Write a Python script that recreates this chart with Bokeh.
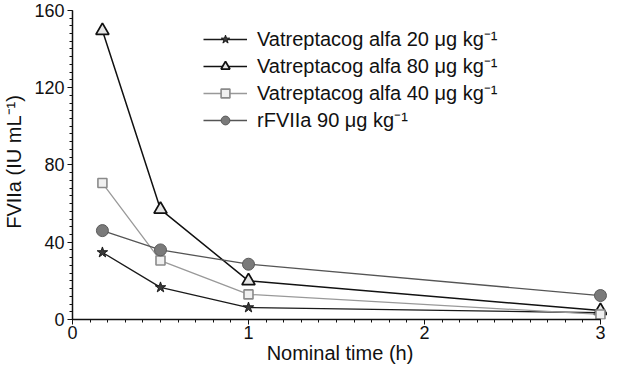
from bokeh.plotting import figure
from bokeh.models import Range1d, Legend, LegendItem, FixedTicker
from bokeh.embed import file_html
from bokeh.resources import INLINE

time_h = [0.17, 0.5, 1.0, 3.0]
vat20 = [34.7, 16.6, 6.2, 3.5]
vat80 = [149.5, 57, 20, 4.6]
vat40 = [70.6, 30.5, 13, 2.6]
rf90 = [46, 36, 28.6, 12.4]

labels = ["Vatreptacog alfa 20 μg kg⁻¹", "Vatreptacog alfa 80 μg kg⁻¹",
          "Vatreptacog alfa 40 μg kg⁻¹", "rFVIIa 90 μg kg⁻¹"]
x_ticks = [0, 1, 2, 3]
y_ticks = [0, 40, 80, 120, 160]

FONT = "Liberation Sans"

p = figure(frame_width=535, frame_height=315, output_backend="svg", toolbar_location=None,
           x_range=Range1d(0, 3.04), y_range=Range1d(0, 163),
           min_border_left=69, min_border_top=4, min_border_right=0, min_border_bottom=43)
p.outline_line_color = None
p.xgrid.visible = False
p.ygrid.visible = False
p.background_fill_color = "white"

r1l = p.line(time_h, vat20, line_color="#1a1a1a", line_width=1.3)
r1m = p.scatter(time_h, vat20, marker="star", size=11, fill_color="#3a3a3a", line_color="#1a1a1a")
r2l = p.line(time_h, vat80, line_color="#111111", line_width=1.5)
r2m = p.scatter(time_h, vat80, marker="triangle", size=13, fill_color="#e6e6e6", line_color="#111111", line_width=1.8)
r3l = p.line(time_h, vat40, line_color="#999999", line_width=1.3)
r3m = p.scatter(time_h, vat40, marker="square", size=9, fill_color="#f0f0f0", line_color="#8a8a8a", line_width=1.6)
r4l = p.line(time_h, rf90, line_color="#555555", line_width=1.3)
r4m = p.scatter(time_h, rf90, marker="circle", size=12, fill_color="#7a7a7a", line_color="#5a5a5a")

legend = Legend(items=[
    LegendItem(label=labels[0], renderers=[r1l, r1m]),
    LegendItem(label=labels[1], renderers=[r2l, r2m]),
    LegendItem(label=labels[2], renderers=[r3l, r3m]),
    LegendItem(label=labels[3], renderers=[r4l, r4m]),
], location=(131, 186))
legend.border_line_color = None
legend.background_fill_alpha = 0
legend.label_text_font = FONT
legend.label_text_font_size = "20px"
legend.label_text_color = "#111111"
legend.label_height = 26
legend.glyph_height = 22
legend.glyph_width = 44
legend.label_standoff = 10
legend.spacing = 0
legend.padding = 0
legend.margin = 0
p.add_layout(legend)

p.xaxis.ticker = FixedTicker(ticks=x_ticks, minor_ticks=[i / 10 for i in range(0, 31)])
p.yaxis.ticker = FixedTicker(ticks=y_ticks, minor_ticks=list(range(0, 161, 4)))
p.xaxis.bounds = (0, 3)
p.yaxis.bounds = (0, 160)
p.xaxis.axis_label = "Nominal time (h)"
p.yaxis.axis_label = "FVIIa (IU mL⁻¹)"
for ax in (p.xaxis, p.yaxis):
    ax.axis_label_text_font = FONT
    ax.axis_label_text_font_style = "normal"
    ax.axis_label_text_font_size = "20px"
    ax.axis_label_text_color = "#111111"
    ax.major_label_text_font = FONT
    ax.major_label_text_font_size = "18px"
    ax.major_label_text_color = "#111111"
    ax.axis_line_color = "#111111"
    ax.axis_line_width = 1.5
    ax.major_tick_line_color = "#111111"
    ax.minor_tick_line_color = "#111111"
    ax.major_tick_out = 5
    ax.major_tick_in = 0
    ax.minor_tick_out = 3
    ax.minor_tick_in = 0
p.xaxis.major_label_standoff = 1
p.yaxis.major_label_standoff = 3
p.xaxis.axis_label_standoff = 0
p.yaxis.axis_label_standoff = 6

open("out.html", "w").write(file_html(p, INLINE))
